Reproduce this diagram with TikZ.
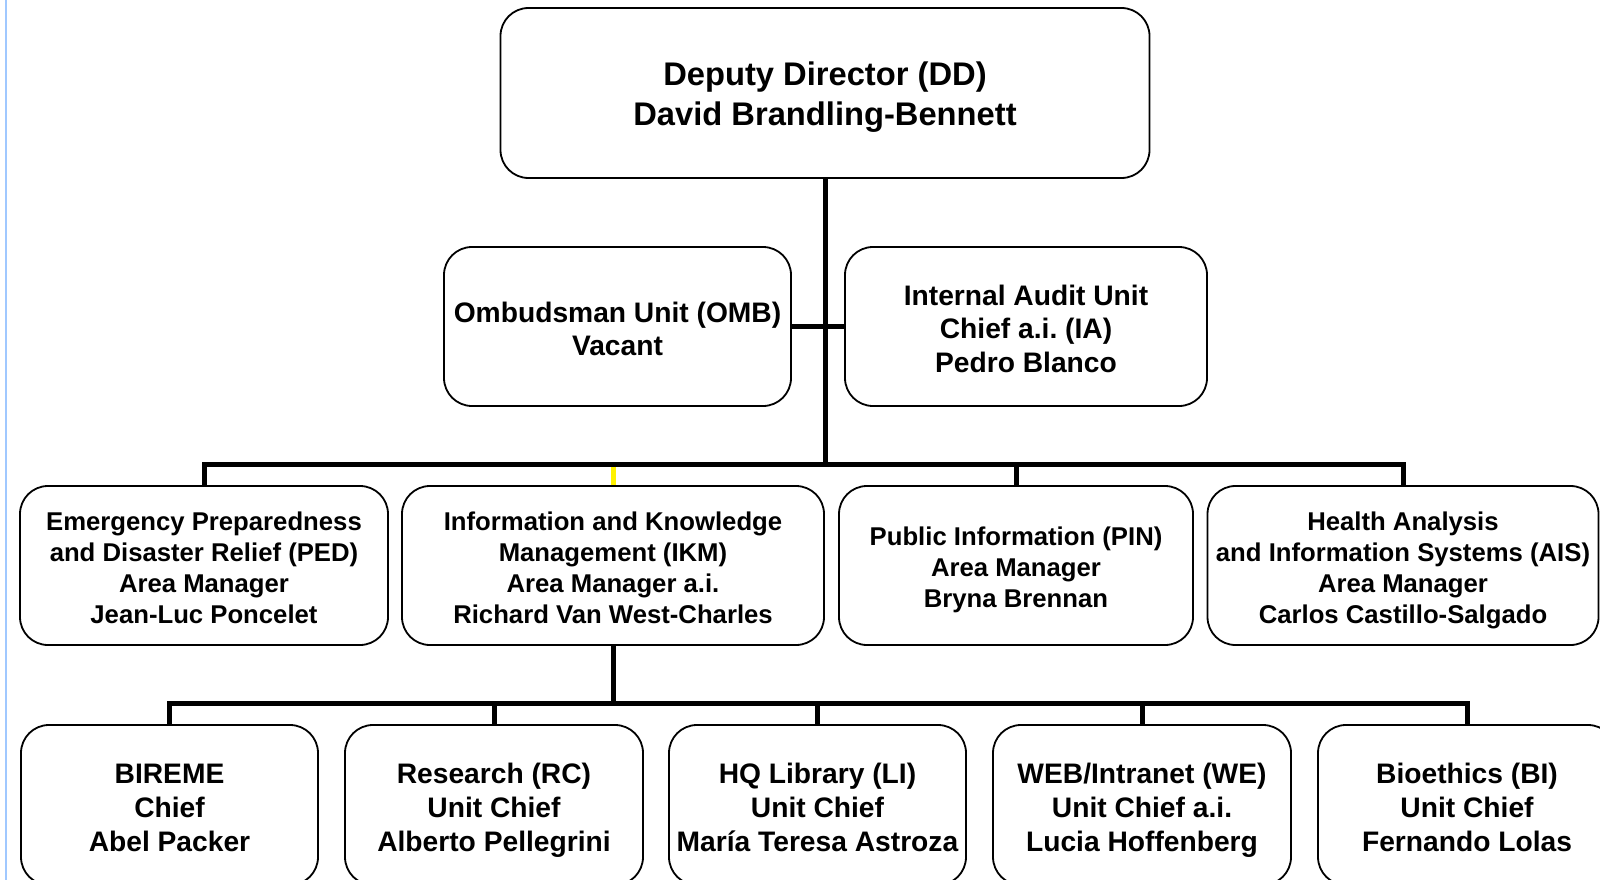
\documentclass[tikz,border=0pt]{standalone}
\usepackage{fontspec}
\setmainfont{Liberation Sans}
\frenchspacing
\definecolor{pagerule}{RGB}{160,200,255}
\tikzset{
	unit/.style={draw, line width=1.8pt, rounded corners=28pt, align=flush center, inner sep=0pt,
		minimum height=159pt, text width=340pt, font=\bfseries\fontsize{25.7}{31}\selectfont,
		execute at begin node={\rule{0pt}{28.9pt}}, execute at end node={\rule[-6pt]{0pt}{6pt}}},
	bigunit/.style={unit, text width=290pt, font=\bfseries\fontsize{28.2}{33.7}\selectfont,
		execute at begin node={\rule{0pt}{31.2pt}}, execute at end node={\rule[-6.5pt]{0pt}{6.5pt}}},
	link/.style={line width=5pt}
}

\begin{document}
\begin{tikzpicture}[x=1pt, y=-1pt]
\useasboundingbox (0,0) rectangle (1600,880);
\draw[line width=2.5pt, pagerule] (6,0) -- (6,880);
\node (dd) [draw, line width=1.8pt, rounded corners=28pt, align=flush center, inner sep=0pt,
	minimum width=649pt, minimum height=170pt, text width=500pt, font=\bfseries\fontsize{32.7}{40}\selectfont,
	execute at begin node={\rule{0pt}{33.4pt}}, execute at end node={\rule[-7.5pt]{0pt}{7.5pt}}] at (825,93) {Deputy Director (DD)\\David Brandling-Bennett};
\node (omb) [bigunit, minimum width=347pt, text width=335pt] at (617.5,326.5) {Ombudsman Unit (OMB)\\Vacant};
\node (ia) [bigunit, minimum width=362pt] at (1026,326.5) {Internal Audit Unit\\Chief a.i. (IA)\\Pedro Blanco};
\node (ped) [unit, minimum width=368pt] at (204,565.5) {Emergency Preparedness\\and Disaster Relief (PED)\\Area Manager\\Jean-Luc Poncelet};
\node (ikm) [unit, minimum width=422pt, text width=380pt] at (613,565.5) {Information and Knowledge\\Management (IKM)\\Area Manager a.i.\\Richard Van West-Charles};
\node (pin) [unit, minimum width=354pt] at (1016,565.5) {Public Information (PIN)\\Area Manager\\Bryna Brennan};
\node (ais) [unit, minimum width=391pt, text width=385pt] at (1403,565.5) {Health Analysis\\and Information Systems (AIS)\\Area Manager\\Carlos Castillo-Salgado};
\node (bireme) [bigunit, minimum width=297pt, minimum height=160pt] at (169.5,805) {BIREME\\Chief\\Abel Packer};
\node (rc) [bigunit, minimum width=298pt, minimum height=160pt] at (494,805) {Research (RC)\\Unit Chief\\Alberto Pellegrini};
\node (li) [bigunit, minimum width=297pt, minimum height=160pt] at (817.5,805) {HQ Library (LI)\\Unit Chief\\María Teresa Astroza};
\node (we) [bigunit, minimum width=298pt, minimum height=160pt] at (1142,805) {WEB/Intranet (WE)\\Unit Chief a.i.\\Lucia Hoffenberg};
\node (bi) [bigunit, minimum width=298pt, minimum height=160pt] at (1467,805) {Bioethics (BI)\\Unit Chief\\Fernando Lolas};
% upper tree
\coordinate (top bus) at (825,464);
\draw[link, yellow] (ikm.north) -- (ikm.north |- top bus);
\draw[link] (dd) -- (top bus);
\draw[link] (omb) -- (ia);
\draw[link] (ped.north) |- (ais.north |- top bus) -- (ais.north);
\draw[link] (pin.north) -- (pin.north |- top bus);
% lower tree
\coordinate (low bus) at (613,703);
\draw[link] (ikm) -- (low bus);
\draw[link] (bireme.north) |- (bi.north |- low bus) -- (bi.north);
\draw[link] (rc.north) -- (rc.north |- low bus);
\draw[link] (li.north) -- (li.north |- low bus);
\draw[link] (we.north) -- (we.north |- low bus);
\end{tikzpicture}
\end{document}
